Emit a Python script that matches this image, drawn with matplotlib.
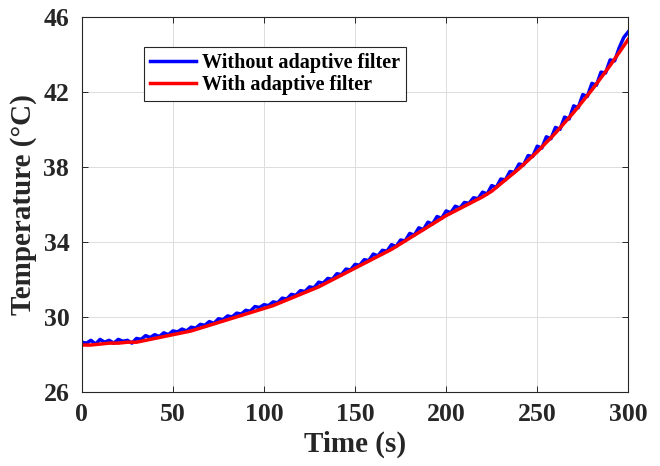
import numpy as np
import matplotlib.pyplot as plt

# time axes (s)
t_red = np.arange(0, 301, 5)
t_blue = np.arange(0, 300.1, 2.5)

# with adaptive filter (read every 5 s)
temp_filtered = [
    28.5, 28.5, 28.55, 28.6, 28.6, 28.65, 28.65, 28.75, 28.85, 28.95,
    29.05, 29.15, 29.25, 29.4, 29.55, 29.7, 29.85, 30.0, 30.15, 30.3,
    30.45, 30.6, 30.8, 31.0, 31.2, 31.4, 31.6, 31.85, 32.1, 32.35,
    32.6, 32.85, 33.1, 33.35, 33.6, 33.9, 34.2, 34.5, 34.8, 35.1,
    35.4, 35.65, 35.9, 36.15, 36.4, 36.7, 37.1, 37.5, 37.9, 38.35,
    38.8, 39.3, 39.8, 40.35, 40.9, 41.5, 42.1, 42.75, 43.4, 44.1,
    44.8,
]

# without adaptive filter (read every 2.5 s)
temp_raw = [
    28.65, 28.6, 28.75, 28.55, 28.8, 28.65, 28.75, 28.6, 28.8, 28.7,
    28.75, 28.6, 28.85, 28.8, 29.0, 28.9, 29.05, 28.95, 29.15, 29.05,
    29.25, 29.2, 29.35, 29.25, 29.45, 29.4, 29.6, 29.55, 29.75, 29.65,
    29.9, 29.85, 30.05, 30.0, 30.2, 30.15, 30.35, 30.3, 30.55, 30.5,
    30.65, 30.6, 30.8, 30.75, 31.0, 30.95, 31.2, 31.15, 31.4, 31.35,
    31.6, 31.55, 31.85, 31.8, 32.05, 32.0, 32.3, 32.25, 32.55, 32.5,
    32.8, 32.75, 33.05, 33.0, 33.35, 33.25, 33.55, 33.5, 33.85, 33.75,
    34.1, 34.05, 34.45, 34.35, 34.75, 34.65, 35.05, 34.95, 35.35, 35.25,
    35.65, 35.55, 35.9, 35.8, 36.1, 36.05, 36.35, 36.3, 36.65, 36.55,
    37.0, 36.9, 37.35, 37.3, 37.75, 37.7, 38.15, 38.1, 38.6, 38.55,
    39.1, 39.0, 39.6, 39.5, 40.1, 40.0, 40.65, 40.55, 41.25, 41.15,
    41.85, 41.75, 42.45, 42.35, 43.05, 43.0, 43.7, 43.65, 44.35, 44.9,
    45.2,
]

x_ticks = [0, 50, 100, 150, 200, 250, 300]
y_ticks = [26, 30, 34, 38, 42, 46]

plt.rcParams['font.family'] = ['Liberation Serif', 'DejaVu Serif']
plt.rcParams['font.weight'] = 'bold'

fig = plt.figure(figsize=(6.6, 4.66), dpi=100)
ax = fig.add_axes([0.124, 0.159, 0.828, 0.805])

ax.plot(t_blue, temp_raw, color='#0000FF', lw=2.5, label='Without adaptive filter')
ax.plot(t_red, temp_filtered, color='#FF0000', lw=2.5, label='With adaptive filter')

ax.set_xlim(0, 300)
ax.set_ylim(26, 46)
ax.set_xticks(x_ticks)
ax.set_yticks(y_ticks)
ax.grid(True, color='#dcdcdc', lw=0.7)
ax.tick_params(direction='in', length=4, width=0.7, top=True, right=True,
               labelsize=18.5, colors='#262626')
ax.tick_params(axis='x', pad=8)
ax.tick_params(axis='y', pad=9)
for lab in ax.get_xticklabels() + ax.get_yticklabels():
    lab.set_fontweight('bold')
for sp in ax.spines.values():
    sp.set_color('#262626')
    sp.set_linewidth(0.8)

ax.set_xlabel('Time (s)', fontsize=21, fontweight='bold', color='#262626', labelpad=3)
ax.set_ylabel('Temperature (°C)', fontsize=21, fontweight='bold', color='#262626', labelpad=5)

leg = ax.legend(loc='upper left', bbox_to_anchor=(0.1136, 0.92), borderaxespad=0,
                fancybox=False, framealpha=1, edgecolor='#262626',
                prop={'size': 14.5, 'weight': 'bold'}, handlelength=2.3,
                handletextpad=0.3, labelspacing=0.1, borderpad=0.3)
leg.get_frame().set_linewidth(0.8)

fig.savefig('out.png', dpi=100)
